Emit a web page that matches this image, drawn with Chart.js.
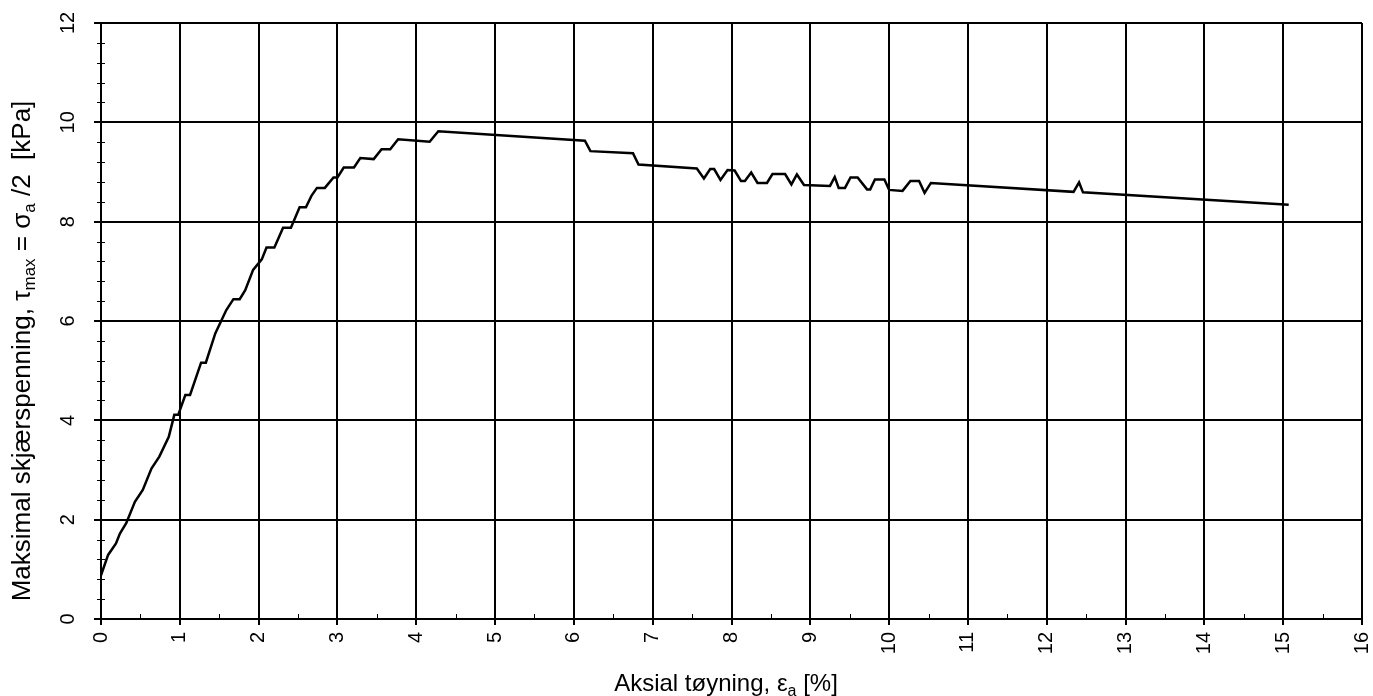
<!DOCTYPE html>
<html>
<head>
<meta charset="utf-8">
<script src="https://cdn.jsdelivr.net/npm/chart.js@4.4.1/dist/chart.umd.min.js"></script>
<style>
  html, body { margin: 0; padding: 0; background: #fff; }
  #wrap { position: relative; width: 1373px; height: 696px; }
</style>
</head>
<body>
<div id="wrap"><canvas id="chart"></canvas></div>
<script>
// axial strain [%] and max shear stress [kPa]
var strainPct = [
  0.00, 0.09, 0.19, 0.24, 0.32, 0.43, 0.53, 0.64, 0.74, 0.86,
  0.93, 0.98, 1.07, 1.13, 1.27, 1.33, 1.45, 1.59, 1.68, 1.76,
  1.83, 1.93, 2.04, 2.10, 2.20, 2.31, 2.41, 2.52, 2.60, 2.67,
  2.74, 2.84, 2.95, 3.00, 3.08, 3.21, 3.29, 3.46, 3.56, 3.67,
  3.77, 4.17, 4.28, 6.14, 6.21, 6.75, 6.82, 7.56, 7.65, 7.73,
  7.78, 7.86, 7.95, 8.04, 8.12, 8.17, 8.25, 8.33, 8.45, 8.52,
  8.68, 8.76, 8.83, 8.92, 9.25, 9.31, 9.36, 9.44, 9.51, 9.60,
  9.72, 9.76, 9.82, 9.94, 10.00, 10.17, 10.27, 10.38, 10.45, 10.53,
  12.34, 12.41, 12.46, 15.07
];
var shearKPa = [
  0.88, 1.29, 1.52, 1.72, 1.93, 2.36, 2.60, 3.03, 3.27, 3.67,
  4.11, 4.11, 4.51, 4.51, 5.16, 5.16, 5.75, 6.22, 6.44, 6.44,
  6.62, 7.03, 7.24, 7.48, 7.48, 7.88, 7.88, 8.29, 8.29, 8.52,
  8.68, 8.68, 8.89, 8.89, 9.09, 9.09, 9.28, 9.26, 9.46, 9.46,
  9.66, 9.61, 9.82, 9.63, 9.42, 9.38, 9.15, 9.07, 8.87, 9.06,
  9.06, 8.84, 9.04, 9.03, 8.82, 8.82, 8.99, 8.78, 8.78, 8.96,
  8.96, 8.75, 8.95, 8.74, 8.72, 8.90, 8.68, 8.68, 8.89, 8.89,
  8.65, 8.65, 8.85, 8.85, 8.64, 8.62, 8.82, 8.82, 8.58, 8.78,
  8.60, 8.79, 8.59, 8.34
];

var xTickLabels = ["0", "1", "2", "3", "4", "5", "6", "7", "8", "9", "10", "11", "12", "13", "14", "15", "16"];
var yTickLabels = ["0", "2", "4", "6", "8", "10", "12"];

// title pieces: [text, isSubscript]
var xTitle = [["Aksial tøyning, ε", false], ["a", true], [" [%]", false]];
var yTitle = [["Maksimal skjærspenning, τ", false], ["max", true], [" = σ", false], ["a", true], [" /2  [kPa]", false]];

var FONT = "'Liberation Sans', Arial, sans-serif";

var points = strainPct.map(function (x, i) { return { x: x, y: shearKPa[i] }; });

function drawRich(ctx, segs, cx, baseY, size, subSize, subDrop) {
  var total = 0;
  segs.forEach(function (s) {
    ctx.font = (s[1] ? subSize : size) + "px " + FONT;
    total += ctx.measureText(s[0]).width;
  });
  var x = cx - total / 2;
  ctx.textAlign = "left";
  ctx.textBaseline = "alphabetic";
  segs.forEach(function (s) {
    ctx.font = (s[1] ? subSize : size) + "px " + FONT;
    ctx.fillText(s[0], x, baseY + (s[1] ? subDrop : 0));
    x += ctx.measureText(s[0]).width;
  });
}

var axisDecor = {
  id: "axisDecor",
  afterDraw: function (chart) {
    var ctx = chart.ctx;
    var xs = chart.scales.x;
    var ys = chart.scales.y;
    var area = chart.chartArea;
    ctx.save();
    ctx.strokeStyle = "#000";
    ctx.fillStyle = "#000";

    // major ticks (outside)
    ctx.lineWidth = 2;
    ctx.beginPath();
    xTickLabels.forEach(function (lab) {
      var px = Math.round(xs.getPixelForValue(Number(lab)));
      ctx.moveTo(px, area.bottom);
      ctx.lineTo(px, area.bottom + 6);
    });
    yTickLabels.forEach(function (lab) {
      var py = Math.round(ys.getPixelForValue(Number(lab)));
      ctx.moveTo(area.left, py);
      ctx.lineTo(area.left - 7, py);
    });
    ctx.stroke();

    // minor ticks
    ctx.lineWidth = 1;
    ctx.beginPath();
    for (var i = 0; i < 16; i++) {
      var mx = Math.round(xs.getPixelForValue(i + 0.5)) + 0.5;
      ctx.moveTo(mx, area.bottom);
      ctx.lineTo(mx, area.bottom - 5);
    }
    for (var j = 1; j < 30; j++) {
      if (j % 5 === 0) continue;
      var my = Math.round(ys.getPixelForValue(j * 0.4)) + 0.5;
      ctx.moveTo(area.left - 4, my);
      ctx.lineTo(area.left + 4, my);
    }
    ctx.stroke();

    // tick labels, rotated to read bottom-up
    ctx.font = "20px " + FONT;
    xTickLabels.forEach(function (lab) {
      var px = xs.getPixelForValue(Number(lab));
      ctx.save();
      ctx.translate(px, area.bottom + 13);
      ctx.rotate(-Math.PI / 2);
      ctx.textAlign = "right";
      ctx.textBaseline = "middle";
      ctx.fillText(lab, 0, 0);
      ctx.restore();
    });
    yTickLabels.forEach(function (lab) {
      var py = ys.getPixelForValue(Number(lab));
      ctx.save();
      ctx.translate(area.left - 33, py);
      ctx.rotate(-Math.PI / 2);
      ctx.textAlign = "center";
      ctx.textBaseline = "middle";
      ctx.fillText(lab, 0, 0);
      ctx.restore();
    });

    // axis titles
    drawRich(ctx, xTitle, 726, 691, 24, 16, 5);
    ctx.save();
    ctx.translate(30, 351);
    ctx.rotate(-Math.PI / 2);
    drawRich(ctx, yTitle, 0, 0, 26, 17, 5);
    ctx.restore();

    ctx.restore();
  }
};

new Chart(document.getElementById("chart"), {
  type: "scatter",
  data: {
    datasets: [{
      data: points,
      showLine: true,
      borderColor: "#000",
      borderWidth: 2.5,
      pointRadius: 0,
      pointHoverRadius: 0,
      tension: 0,
      fill: false
    }]
  },
  options: {
    responsive: true,
    maintainAspectRatio: false,
    animation: false,
    events: [],
    layout: { padding: { left: 101, right: 11, top: 23, bottom: 77 } },
    plugins: {
      legend: { display: false },
      tooltip: { enabled: false }
    },
    scales: {
      x: {
        type: "linear",
        min: 0,
        max: 16,
        ticks: { stepSize: 1, display: false },
        grid: { color: "#000", lineWidth: 2, drawTicks: false },
        border: { color: "#000", width: 2 }
      },
      y: {
        type: "linear",
        min: 0,
        max: 12,
        ticks: { stepSize: 2, display: false },
        grid: { color: "#000", lineWidth: 2, drawTicks: false },
        border: { color: "#000", width: 2 }
      }
    }
  },
  plugins: [axisDecor]
});
</script>
</body>
</html>
